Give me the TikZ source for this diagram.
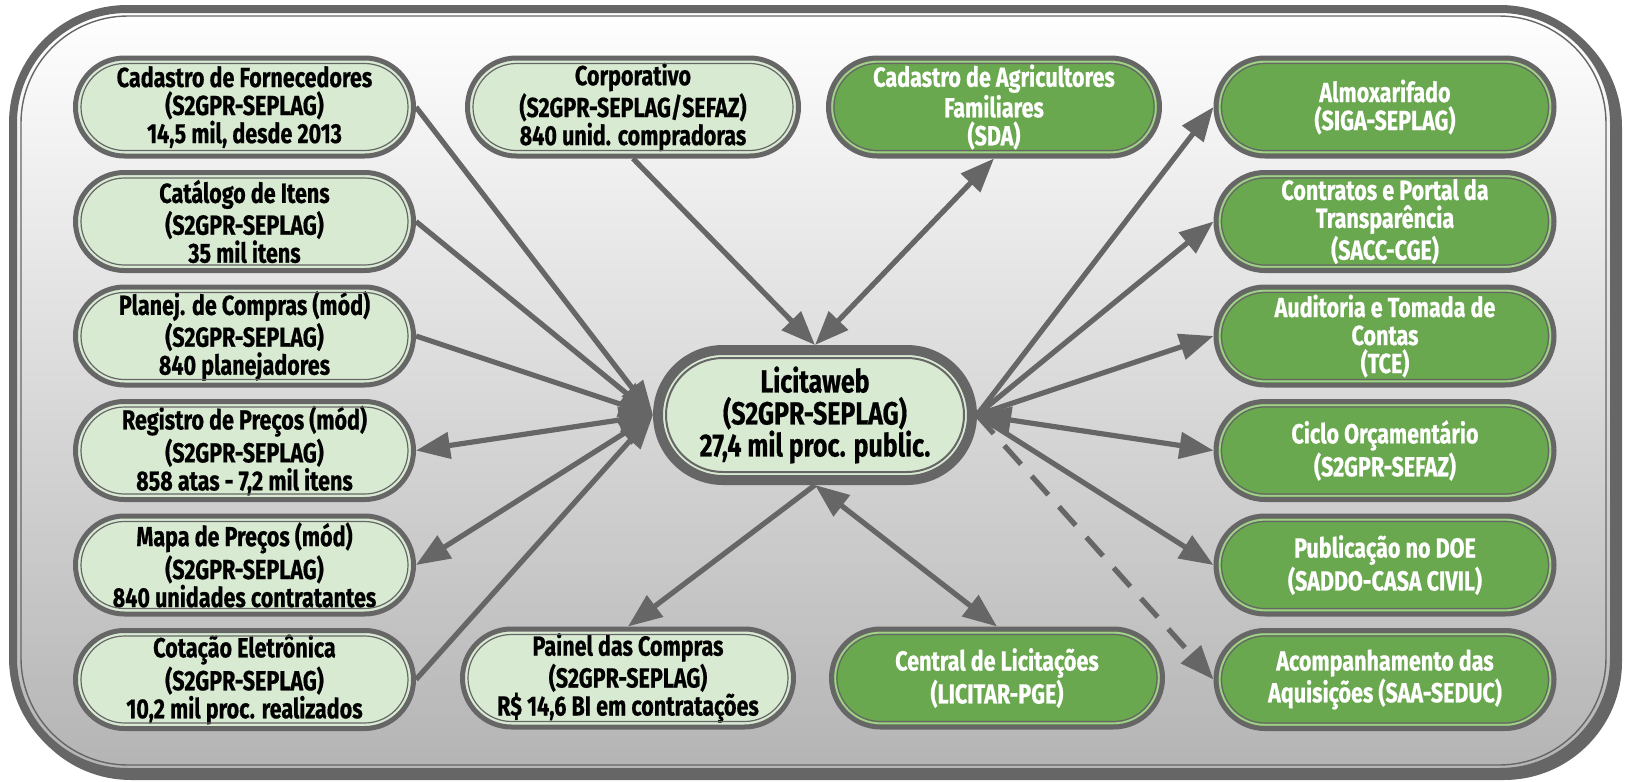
\documentclass[tikz,border=0pt]{standalone}
\usepackage{fontspec}
\setmainfont{Fira Sans}[FakeStretch=0.78, BoldFeatures={FakeBold=0.6}]
\usetikzlibrary{arrows.meta,calc}
\definecolor{lgreen}{HTML}{D9EAD3}
\definecolor{dgreen}{HTML}{6AA84F}
\definecolor{ggap}{HTML}{A3CF8C}
\definecolor{dgray}{HTML}{666666}
\definecolor{bgbot}{HTML}{B4B4B4}
\tikzset{
  boxbase/.style={rectangle, draw=dgray, line width=2.5pt, align=center, inner sep=0pt,
    minimum height=49pt, rounded corners=24.5pt, font=\bfseries\fontsize{13.8}{14}\selectfont},
  lbox/.style={boxbase, fill=lgreen, text=black, minimum width=169pt},
  gbox/.style={boxbase, fill=dgreen, text=white, minimum width=169pt},
  mlbox/.style={lbox, minimum width=165.5pt},
  mgbox/.style={gbox, minimum width=165.5pt},
  hub/.style={rectangle, draw=dgray, line width=5pt, fill=lgreen, align=center, inner sep=0pt,
    minimum width=157pt, minimum height=65pt, rounded corners=32.5pt,
    font=\bfseries\fontsize{16}{16}\selectfont},
  conn/.style={draw=dgray, line width=2.6pt, -{Triangle[length=17pt,width=13pt]}},
  biconn/.style={draw=dgray, line width=2.6pt, {Triangle[length=17pt,width=13pt]}-{Triangle[length=17pt,width=13pt]}},
  innerline/.style={draw=dgray, line width=0.6pt, rounded corners=21.75pt},
  gapline/.style={draw=ggap, line width=0.9pt, rounded corners=22.6pt},
}
\begin{document}
\begin{tikzpicture}[x=0.5pt,y=-0.5pt]
\useasboundingbox (0,0) rectangle (1630,782);
% frame
\draw[dgray, line width=4pt, fill=dgray, rounded corners=57pt] (17,13) rectangle (1618,776);
\draw[dgray, line width=4pt, top color=white, bottom color=bgbot, rounded corners=57pt] (13,9) rectangle (1614,772);
\draw[dgray, line width=0.7pt, rounded corners=53.5pt] (21,16) rectangle (1606,765);

% left column
\node[lbox] (cf) at (244.5,107) {Cadastro de Fornecedores\\(S2GPR-SEPLAG)\\14,5 mil, desde 2013};
\node[lbox] (ci) at (244.5,221.5) {Catálogo de Itens\\(S2GPR-SEPLAG)\\35 mil itens};
\node[lbox] (pc) at (244.5,336) {Planej. de Compras (mód)\\(S2GPR-SEPLAG)\\840 planejadores};
\node[lbox] (rp) at (244.5,450.5) {Registro de Preços (mód)\\(S2GPR-SEPLAG)\\858 atas - 7,2 mil itens};
\node[lbox] (mp) at (244.5,565) {Mapa de Preços (mód)\\(S2GPR-SEPLAG)\\840 unidades contratantes};
\node[lbox] (ce) at (244.5,679.5) {Cotação Eletrônica\\(S2GPR-SEPLAG)\\10,2 mil proc. realizados};
% middle
\node[mlbox] (co) at (633,107) {Corporativo\\(S2GPR-SEPLAG/SEFAZ)\\840 unid. compradoras};
\node[mgbox] (ca) at (994,107) {Cadastro de Agricultores\\Familiares\\(SDA)};
\node[mlbox] (pa) at (628,678) {Painel das Compras\\(S2GPR-SEPLAG)\\R\$ 14,6 BI em contratações};
\node[mgbox] (cl) at (997,678) {Central de Licitações\\(LICITAR-PGE)};
\node[hub] (lw) at (815,415) {Licitaweb\\(S2GPR-SEPLAG)\\27,4 mil proc. public.};
% right column
\node[gbox] (al) at (1385,107) {Almoxarifado\\(SIGA-SEPLAG)};
\node[gbox] (ct) at (1385,221.5) {Contratos e Portal da\\Transparência\\(SACC-CGE)};
\node[gbox] (au) at (1385,336) {Auditoria e Tomada de\\Contas\\(TCE)};
\node[gbox] (cy) at (1385,450.5) {Ciclo Orçamentário\\(S2GPR-SEFAZ)};
\node[gbox] (pu) at (1385,565) {Publicação no DOE\\(SADDO-CASA CIVIL)};
\node[gbox] (aq) at (1385,679.5) {Acompanhamento das\\Aquisições (SAA-SEDUC)};

% inner lines
\foreach \n in {ca,cl,al,ct,au,cy,pu,aq}
  \draw[gapline] ($(\n.north west)+(6.2,6.2)$) rectangle ($(\n.south east)+(-6.2,-6.2)$);
\foreach \n in {cf,ci,pc,rp,mp,ce,co,pa,ca,cl,al,ct,au,cy,pu,aq}
  \draw[innerline] ($(\n.north west)+(8,8)$) rectangle ($(\n.south east)+(-8,-8)$);
\draw[dgray, line width=1pt, rounded corners=28.5pt] ($(lw.north west)+(13,13)$) rectangle ($(lw.south east)+(-13,-13)$);

% connectors
\foreach \n in {cf,ci,pc,ce} \draw[conn] (\n.east) -- (lw.west);
\draw[biconn] (rp.east) -- (lw.west);
\draw[biconn] (mp.east) -- (lw.west);
\draw[conn] (co.south) -- (lw.north);
\draw[biconn] (lw.north) -- (ca.south);
\draw[conn] (lw.south) -- (pa.north);
\draw[biconn] (lw.south) -- (cl.north);
\foreach \n in {al,ct,au,pu} \draw[conn] (lw.east) -- (\n.west);
\draw[biconn] (lw.east) -- (cy.west);
\draw[conn, dash pattern=on 12.5pt off 8pt] (lw.east) -- (aq.west);
\end{tikzpicture}
\end{document}
